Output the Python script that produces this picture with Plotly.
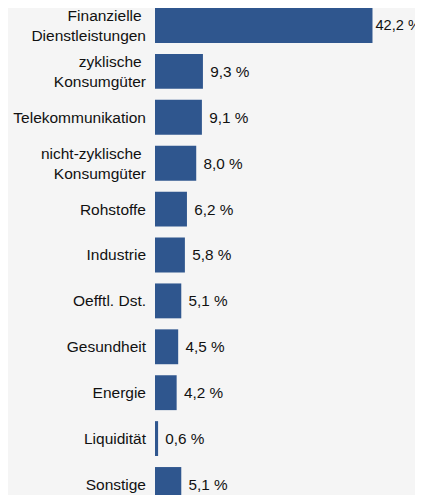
import plotly.graph_objects as go

categories = [
    "Finanzielle\u00a0<br>Dienstleistungen",
    "zyklische\u00a0<br>Konsumgüter",
    "Telekommunikation",
    "nicht-zyklische\u00a0<br>Konsumgüter",
    "Rohstoffe",
    "Industrie",
    "Oefftl. Dst.",
    "Gesundheit",
    "Energie",
    "Liquidität",
    "Sonstige",
]
values = [42.2, 9.3, 9.1, 8.0, 6.2, 5.8, 5.1, 4.5, 4.2, 0.6, 5.1]
value_labels = [
    ("" if i == 0 else "\u00a0") + f"{v:.1f}".replace(".", ",") + " %"
    for i, v in enumerate(values)
]
label_sizes = [14.6] + [15.3] * (len(values) - 1)

font_family = "Liberation Sans, Arial, sans-serif"

fig = go.Figure(
    go.Bar(
        y=list(range(len(categories))),
        x=values,
        orientation="h",
        marker=dict(color="#2f568e", line=dict(width=0)),
        text=value_labels,
        textposition="outside",
        textfont=dict(family=font_family, size=label_sizes, color="#111111"),
        constraintext="none",
        cliponaxis=False,
        width=0.76,
    )
)

fig.update_layout(
    width=415,
    height=487,
    margin=dict(l=147, r=0, t=0, b=0, autoexpand=False),
    paper_bgcolor="#f5f5f5",
    plot_bgcolor="#f5f5f5",
    showlegend=False,
    font=dict(family=font_family, size=15.5, color="#111111"),
    xaxis=dict(
        range=[0, 52.0],
        visible=False,
        showgrid=False,
        zeroline=False,
        automargin=False,
    ),
    yaxis=dict(
        tickmode="array",
        tickvals=list(range(len(categories))),
        ticktext=categories,
        range=[10.229, -0.381],
        showgrid=False,
        zeroline=False,
        showline=False,
        ticks="",
        ticklabelstandoff=8,
        ticklabeloverflow="allow",
        automargin=False,
        tickfont=dict(family=font_family, size=15.5, color="#111111"),
    ),
)

fig.write_html("out.html")
